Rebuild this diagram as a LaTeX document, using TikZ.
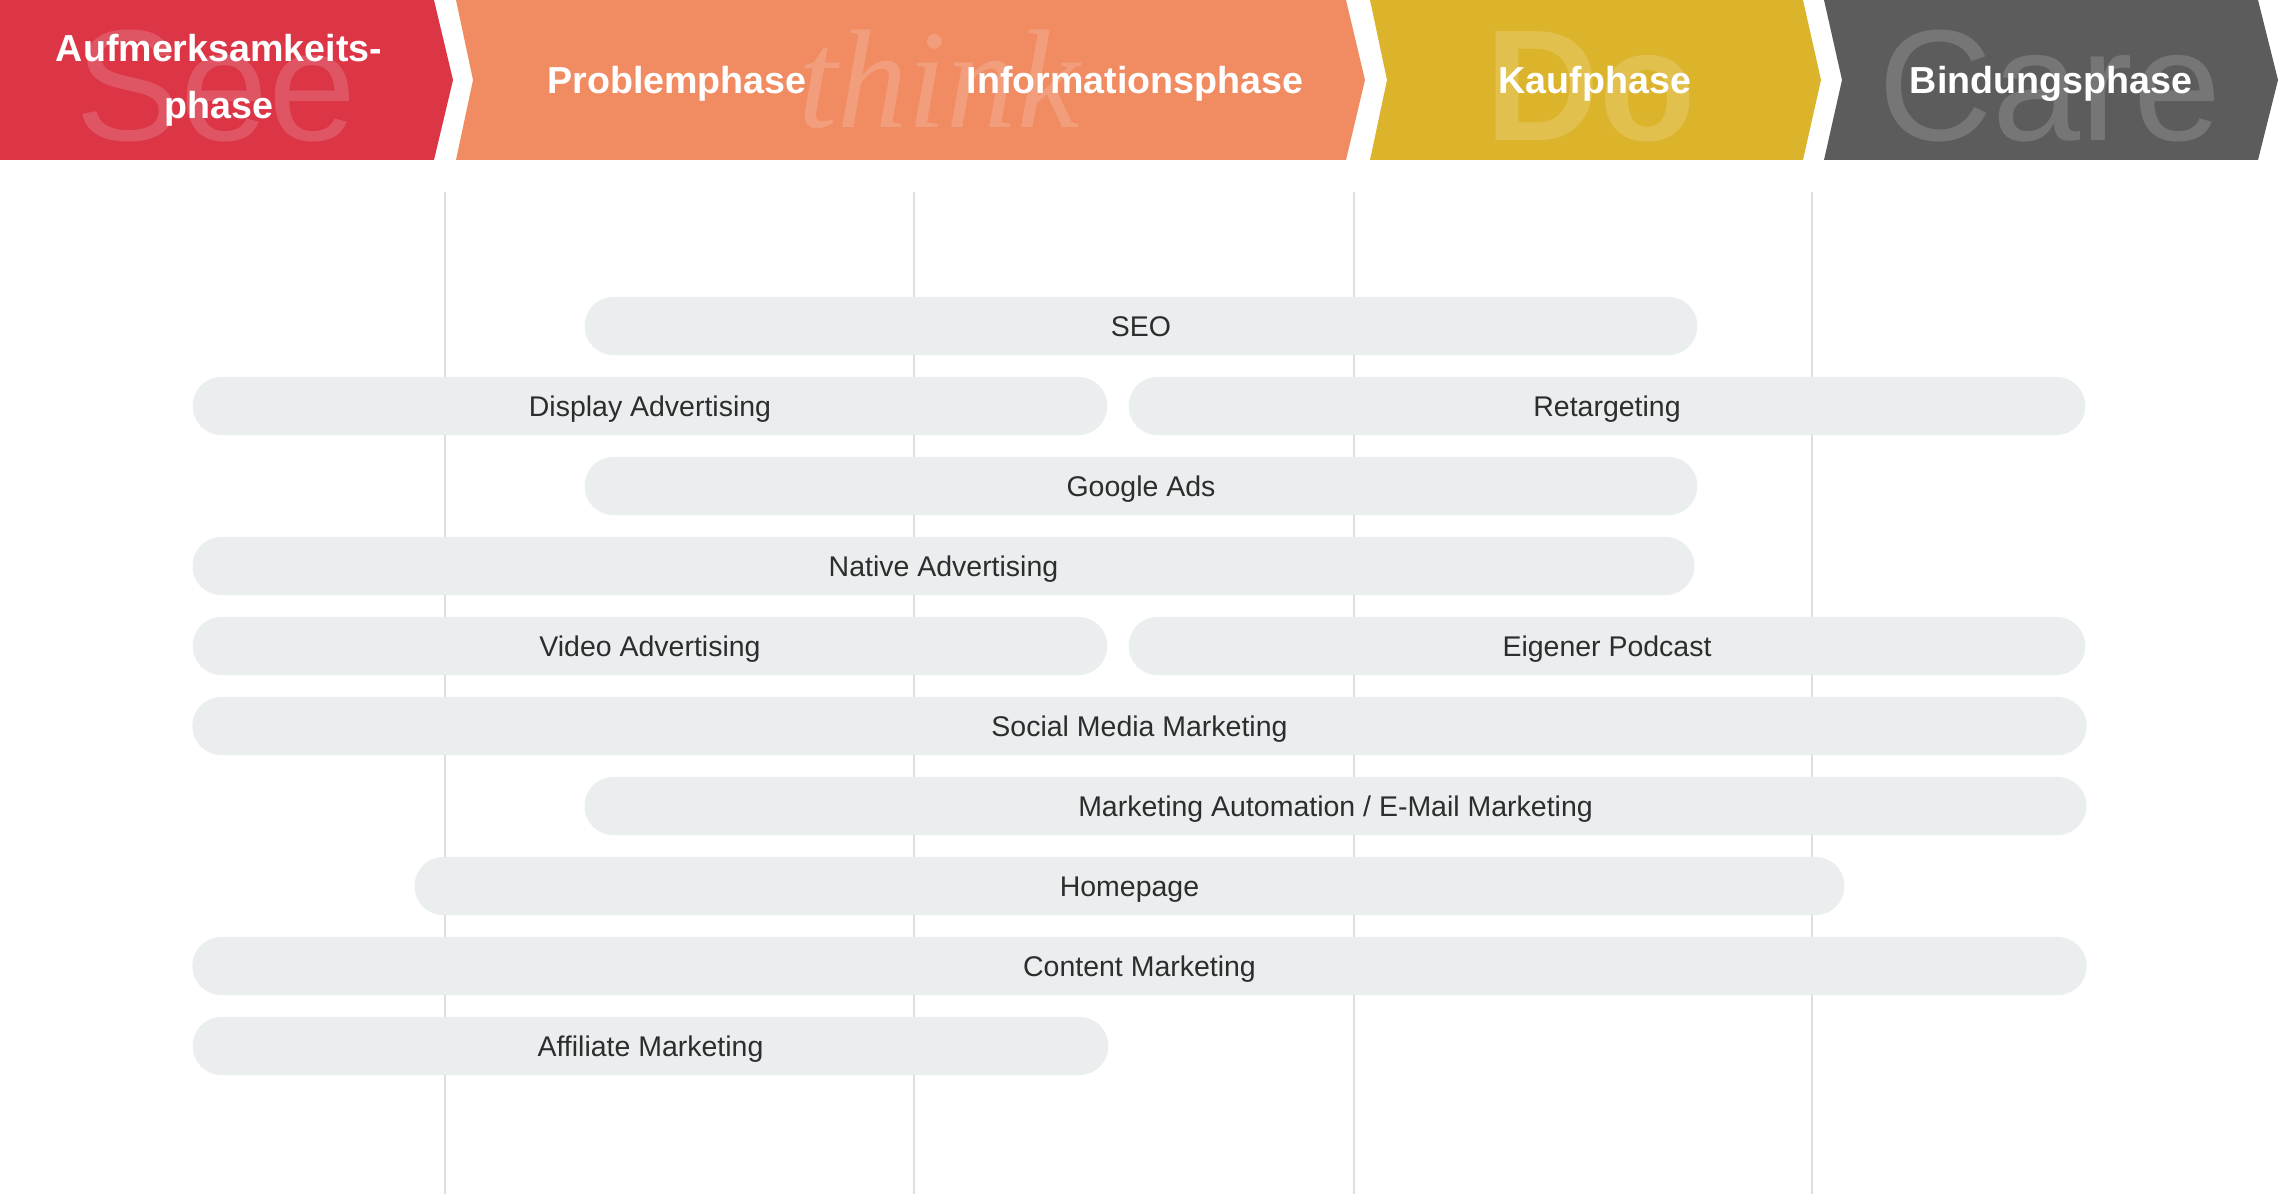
\documentclass[tikz,border=0pt]{standalone}
\usepackage{fontspec}
\setmainfont{Liberation Sans}
\newfontfamily\handfont{Liberation Serif}

\definecolor{seered}{RGB}{219,53,70}
\definecolor{thinkorange}{RGB}{240,139,98}
\definecolor{doyellow}{RGB}{220,180,44}
\definecolor{caregray}{RGB}{92,92,92}
\definecolor{barfill}{RGB}{235,238,239}
\definecolor{bartext}{RGB}{45,45,45}
\definecolor{gridline}{RGB}{222,222,222}

\begin{document}
\begin{tikzpicture}[
        x=0.01cm, y=-0.01cm,
        bar/.style={fill=barfill, rounded corners=0.285cm, minimum height=0.58cm, inner sep=0pt,
            text height=5.8pt, text depth=0pt, text=bartext, font=\fontsize{8.1}{10}\selectfont},
        phase/.style={text=white, align=center, font=\fontsize{10.7}{16.1}\selectfont\bfseries},
        watermark/.style={anchor=base, text=white, text opacity=0.16, font=\fontsize{45}{45}\selectfont},
        guide/.style={draw=gridline, line width=0.6pt}
    ]
    \useasboundingbox (0,0) rectangle (2278,1194);

    % phase chevrons
    \fill[seered] (0,0) -- (434,0) -- (453,80) -- (434,160) -- (0,160) -- cycle;
    \fill[thinkorange] (456,0) -- (1346,0) -- (1365,80) -- (1346,160) -- (456,160) -- (473,80) -- cycle;
    \fill[doyellow] (1370,0) -- (1803,0) -- (1821,80) -- (1803,160) -- (1370,160) -- (1387,80) -- cycle;
    \fill[caregray] (1824,0) -- (2258,0) -- (2278,80) -- (2258,160) -- (1824,160) -- (1842,80) -- cycle;

    \node[watermark] (see) at (216,141) {See};
    \node[watermark, font=\fontsize{40}{40}\handfont\itshape] (think) at (939,128) {think};
    \node[watermark, font=\fontsize{45}{45}\selectfont\bfseries] (do) at (1591,141) {Do};
    \node[watermark] (care) at (2050,141) {Care};

    \node[phase] (aware) at (219,80) {Aufmerksamkeits-\\phase};
    \node[phase] (problem) at (677,84) {Problemphase};
    \node[phase] (info) at (1135,84) {Informationsphase};
    \node[phase] (buy) at (1595,84) {Kaufphase};
    \node[phase] (bond) at (2051,84) {Bindungsphase};

    % phase borders
    \foreach \x in {445,914,1354,1812}
        \draw[guide] (\x,192) -- (\x,1194);

    % channels
    \node[bar, minimum width=11.12cm] (seo) at (1141,326) {SEO};
    \node[bar, minimum width=9.14cm] (display) at (650,406) {Display Advertising};
    \node[bar, minimum width=9.56cm] (retarget) at (1607,406) {Retargeting};
    \node[bar, minimum width=11.12cm] (gads) at (1141,486) {Google Ads};
    \node[bar, minimum width=15.01cm] (native) at (943.5,566) {Native Advertising};
    \node[bar, minimum width=9.14cm] (video) at (650,646) {Video Advertising};
    \node[bar, minimum width=9.56cm] (podcast) at (1607,646) {Eigener Podcast};
    \node[bar, minimum width=18.93cm] (social) at (1139.5,726) {Social Media Marketing};
    \node[bar, minimum width=15.01cm] (mailing) at (1335.5,806) {Marketing Automation / E-Mail Marketing};
    \node[bar, minimum width=14.29cm] (homepage) at (1129.5,886) {Homepage};
    \node[bar, minimum width=18.93cm] (content) at (1139.5,966) {Content Marketing};
    \node[bar, minimum width=9.15cm] (affiliate) at (650.5,1046) {Affiliate Marketing};
\end{tikzpicture}
\end{document}
